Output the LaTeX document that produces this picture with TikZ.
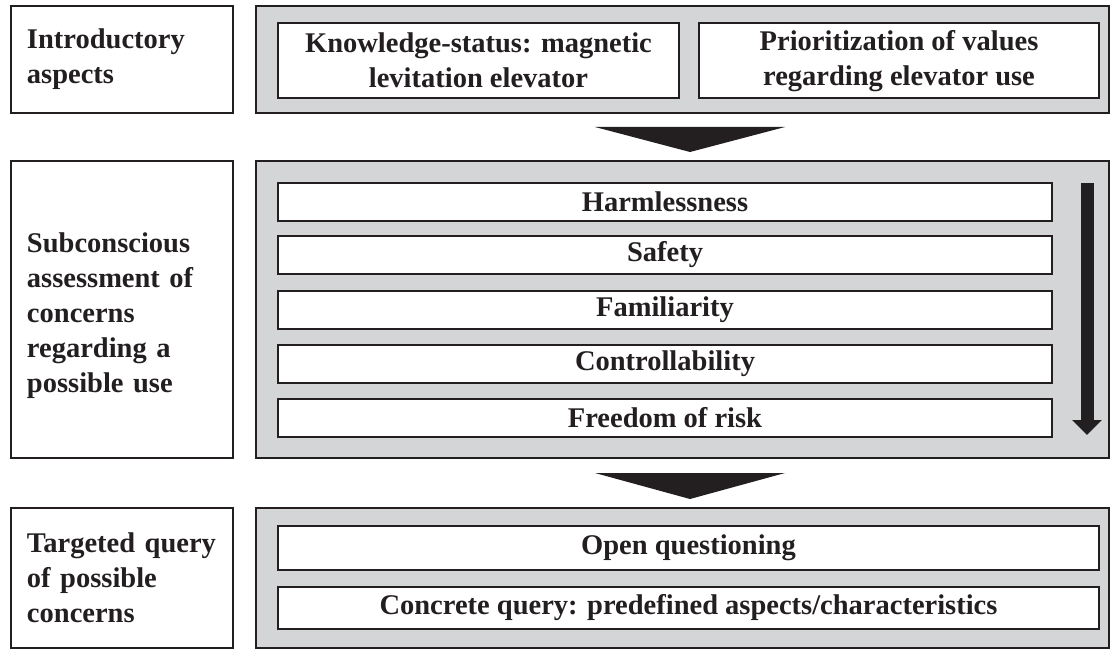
\documentclass[tikz,border=0pt]{standalone}
\usepackage{fontspec}
\setmainfont{Liberation Serif}
\usepackage{xcolor}
\usetikzlibrary{arrows.meta,positioning}
\definecolor{inkline}{HTML}{231F20}
\definecolor{panelgray}{HTML}{D4D5D7}
\pgfdeclarelayer{edgelayer}
\pgfdeclarelayer{nodelayer}
\pgfsetlayers{edgelayer,nodelayer,main}
\tikzstyle{stagelabel}=[draw=inkline, line width=2, fill=white, text=inkline, inner xsep=16, inner ysep=0, minimum width=222, text width=190, align=left, font=\fontsize{28.5}{35}\selectfont\bfseries]
\tikzstyle{panel}=[draw=inkline, line width=2, fill=panelgray, minimum width=853, inner sep=0]
\tikzstyle{item}=[draw=inkline, line width=2, fill=white, text=inkline, inner sep=0, align=center, font=\fontsize{28.5}{35}\selectfont\bfseries]
\tikzstyle{flowhead}=[fill=inkline, draw=none]
\tikzstyle{orderarrow}=[-{Triangle[width=29pt,length=15pt]}, line width=13, draw=inkline]

\begin{document}
\begin{tikzpicture}[x=1pt,y=-1pt]
	\useasboundingbox (0,0) rectangle (1110,650);
	\begin{pgfonlayer}{nodelayer}
		% left column
		\node [style=stagelabel, minimum height=107] (intro) at (122,59.5) {Introductory\\aspects};
		\node [style=stagelabel, minimum height=297, text height=33] (subcon) at (122,309.5) {Subconscious\\assessment of\\concerns\\regarding a\\possible use};
		\node [style=stagelabel, minimum height=140] (target) at (122,578) {Targeted query\\of possible\\concerns};

		% gray panels
		\node [style=panel, minimum height=107] (P1) at (682.5,59.5) {};
		\node [style=panel, minimum height=297] (P2) at (682.5,309.5) {};
		\node [style=panel, minimum height=140] (P3) at (682.5,578) {};

		% first stage
		\node [style=item, minimum width=401, minimum height=74.5] (know) at (478.5,60.75) {Knowledge-status: magnetic\\levitation elevator};
		\node [style=item, minimum width=400, minimum height=74.5] (prio) at (899,60.75) {Prioritization of values\\regarding elevator use};

		% second stage
		\node [style=item, minimum width=774, minimum height=38] (harm) at (665,202) {Harmlessness};
		\node [style=item, minimum width=774, minimum height=38] (safe) at (665,255) {Safety};
		\node [style=item, minimum width=774, minimum height=38] (fam) at (665,309.5) {Familiarity};
		\node [style=item, minimum width=774, minimum height=38] (ctrl) at (665,364) {Controllability};
		\node [style=item, minimum width=774, minimum height=38] (risk) at (665,418) {Freedom of risk};

		% third stage
		\node [style=item, minimum width=821, minimum height=44] (open) at (688.5,548) {Open questioning};
		\node [style=item, minimum width=821, minimum height=42] (conc) at (688.5,608) {Concrete query: predefined aspects/characteristics};

		\coordinate (A1L) at (595,127);
		\coordinate (A1R) at (785,127);
		\coordinate (A1T) at (690,152);
		\coordinate (A2L) at (595,473);
		\coordinate (A2R) at (785,473);
		\coordinate (A2T) at (690,499);
		\coordinate (Vtop) at (1087,183);
		\coordinate (Vend) at (1087,435);
	\end{pgfonlayer}
	\begin{pgfonlayer}{edgelayer}
		\fill [style=flowhead] (A1L) -- (A1R) -- (A1T) -- cycle;
		\fill [style=flowhead] (A2L) -- (A2R) -- (A2T) -- cycle;
	\end{pgfonlayer}
	\draw [style=orderarrow] (Vtop) to (Vend);
\end{tikzpicture}
\end{document}
